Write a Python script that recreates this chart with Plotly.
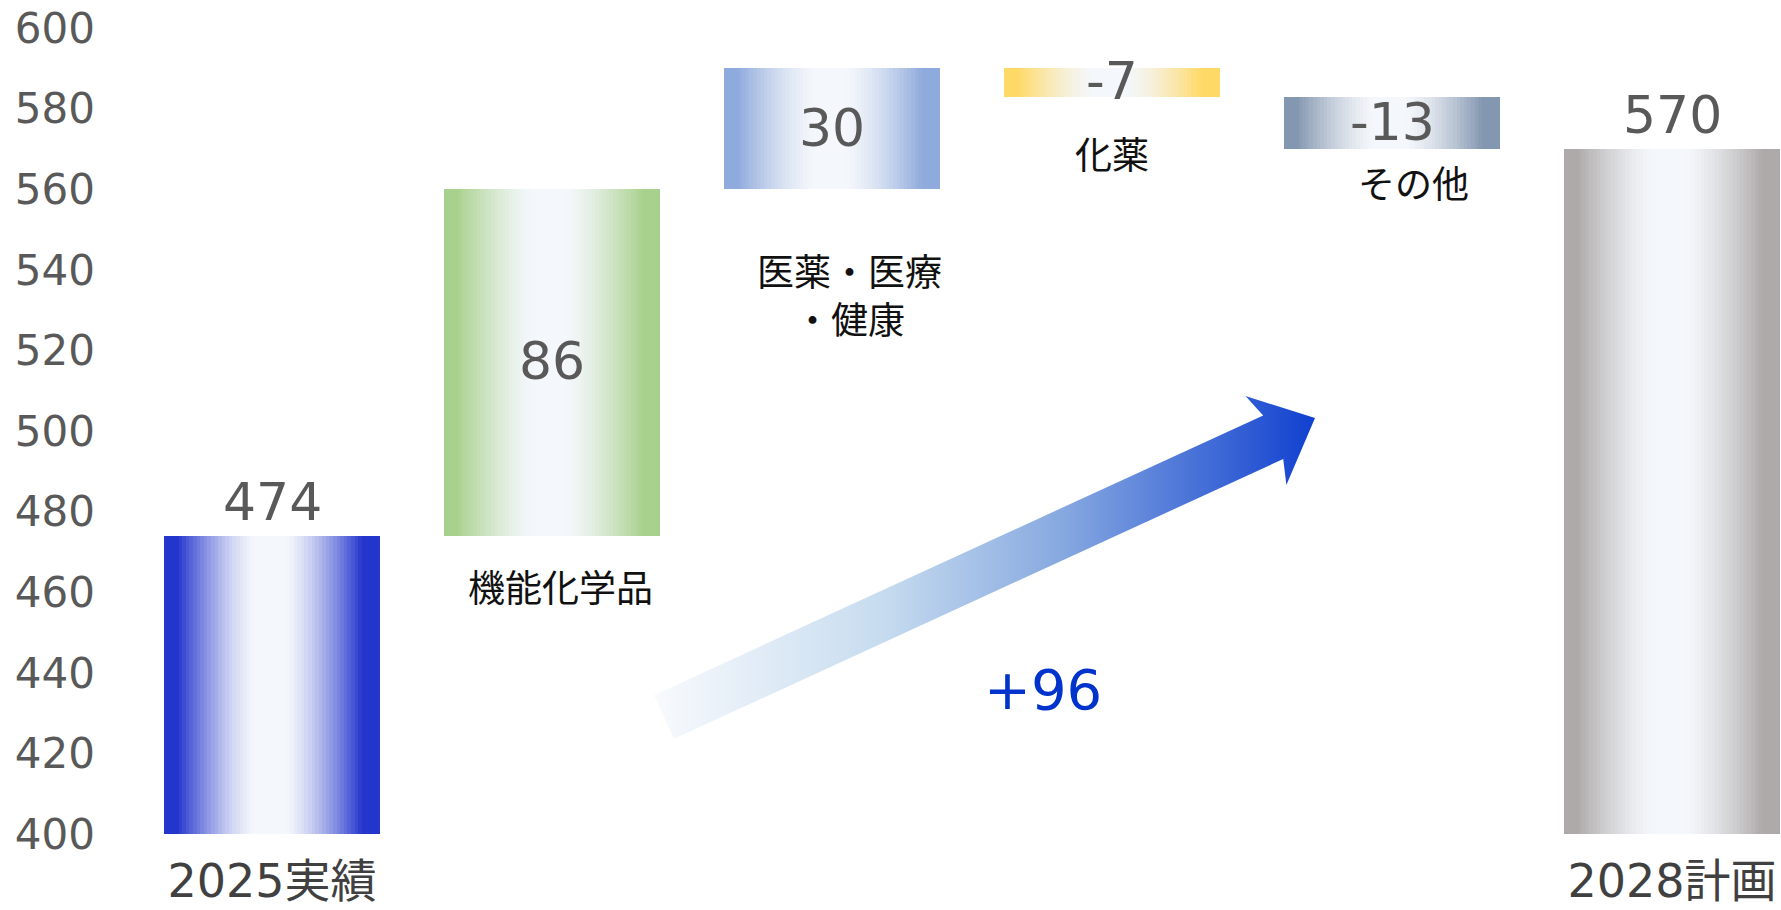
import numpy as np
import plotly.graph_objects as go

# ---------------- data ----------------
categories = ["2025実績", "機能化学品", "医薬・医療<br>・健康", "化薬", "その他", "2028計画"]
measures = ["absolute", "relative", "relative", "relative", "relative", "total"]
values = [474, 86, 30, -7, -13, 570]
value_labels = ["474", "86", "30", "-7", "-13", "570"]
axis_labels = ["2025実績", "", "", "", "", "2028計画"]
edge_colors = ["#2435cc", "#a9d18e", "#8faadc", "#ffd966", "#8497b0", "#aeaaaa"]
y_ticks = [400, 420, 440, 460, 480, 500, 520, 540, 560, 580, 600]
total_change_label = "+96"

# ---------------- layout constants ----------------
W, H = 1781, 910
L, R, T, B = 118, 0, 28, 76
BAR_W = 0.77
N_STRIPS = 60
CENTER = "#f4f7fb"
NUM_FONT = "DejaVu Sans, Noto Sans CJK JP"
CJK_FONT = "Noto Sans CJK JP"

# waterfall bases / heights
bases, heights = [], []
running = 0
for m, v in zip(measures, values):
    if m == "absolute":
        bases.append(0); heights.append(v); running = v
    elif m == "relative":
        bases.append(running); heights.append(v); running += v
    else:
        bases.append(0); heights.append(running)
xs = list(range(len(categories)))


def hex2rgb(h):
    h = h.lstrip("#")
    return np.array([int(h[i:i + 2], 16) for i in (0, 2, 4)], float)


def mix(c1, c2, a):
    c = hex2rgb(c1) * a + hex2rgb(c2) * (1 - a)
    return "rgb(%d,%d,%d)" % tuple(np.round(c).astype(int))


def profile(t):
    d = abs(t - 0.49)
    s = np.clip((d - 0.07) / 0.36, 0, 1)
    return s ** 1.4


fig = go.Figure()

# gradient bars built from vertical strips
for k in range(N_STRIPS):
    t = (k + 0.5) / N_STRIPS
    a = profile(t)
    fig.add_trace(go.Bar(
        x=xs, y=heights, base=bases,
        width=BAR_W / N_STRIPS * 1.1,
        offset=-BAR_W / 2 + k * BAR_W / N_STRIPS,
        marker=dict(color=[mix(c, CENTER, a) for c in edge_colors], line=dict(width=0)),
        hoverinfo="skip", showlegend=False,
    ))

# value labels
for i, m in enumerate(measures):
    if m == "relative":
        fig.add_annotation(x=xs[i], y=bases[i] + heights[i] / 2, text=value_labels[i],
                           showarrow=False, yanchor="middle", yshift=1,
                           font=dict(family=NUM_FONT, size=52, color="#595959"))
    else:
        fig.add_annotation(x=xs[i], y=bases[i] + heights[i], text=value_labels[i],
                           showarrow=False, yanchor="middle", yshift=34,
                           font=dict(family=NUM_FONT, size=52, color="#595959"))

# category labels for the movement bars (placed beside the bars)
label_y = {1: 461.5, 2: 534.0, 3: 569.0, 4: 561.7}
label_dx = {1: 8, 2: 17, 3: 0, 4: 21}
for i, m in enumerate(measures):
    if m == "relative":
        fig.add_annotation(x=xs[i], y=label_y[i], xshift=label_dx[i], text=categories[i],
                           showarrow=False, align="center",
                           font=dict(family=CJK_FONT, size=37, color="#111111"))

# decorative gradient arrow (image-pixel overlay axes)
tail = np.array([664.0, 717.0]); tip = np.array([1315.0, 418.0])
u = (tip - tail) / np.linalg.norm(tip - tail)
n = np.array([-u[1], u[0]])
sw, hw, hl, sweep = 48, 98, 46, 8
base = tip - u * hl
pts = [tail + n * sw / 2, base + n * sw / 2, base - u * sweep + n * hw / 2, tip,
       base - u * sweep - n * hw / 2, base - n * sw / 2, tail - n * sw / 2, tail + n * sw / 2]
ax_ = [p[0] for p in pts]; ay_ = [p[1] for p in pts]
fig.add_trace(go.Scatter(
    x=ax_, y=ay_, xaxis="x2", yaxis="y2", mode="lines", line=dict(width=0),
    fill="toself",
    fillgradient=dict(type="horizontal",
                      colorscale=[[0, "#f8fafd"], [0.35, "#c6dbef"], [0.62, "#86a8e0"], [1, "#1040d0"]]),
    showlegend=False, hoverinfo="skip"))
fig.add_annotation(x=1043, y=689, xref="x2", yref="y2", text=total_change_label, showarrow=False,
                   font=dict(family=NUM_FONT, size=56, color="#0033cc"))

fig.update_layout(
    width=W, height=H, margin=dict(l=L, r=R, t=T, b=B, autoexpand=False),
    paper_bgcolor="white", plot_bgcolor="white", barmode="overlay", bargap=0,
    font=dict(family=NUM_FONT),
    xaxis=dict(range=[(L - 272) / 280, (W - 272) / 280], tickvals=xs, ticktext=axis_labels,
               showgrid=False, zeroline=False, showline=False, ticks="", automargin=False,
               tickfont=dict(family=NUM_FONT, size=46, color="#404040"), ticklabelstandoff=16),
    yaxis=dict(range=[400, 600], tickvals=y_ticks, showgrid=False, zeroline=False,
               showline=False, ticks="", automargin=False,
               tickfont=dict(family=NUM_FONT, size=42, color="#595959"),
               ticklabelstandoff=22, ticklabeloverflow="allow"),
    xaxis2=dict(overlaying="x", range=[L, W - R], visible=False),
    yaxis2=dict(overlaying="y", range=[H - B, T], visible=False),
)

fig.write_html("out.html", config={"displayModeBar": False},
               post_script="document.body.style.margin='0px';")
